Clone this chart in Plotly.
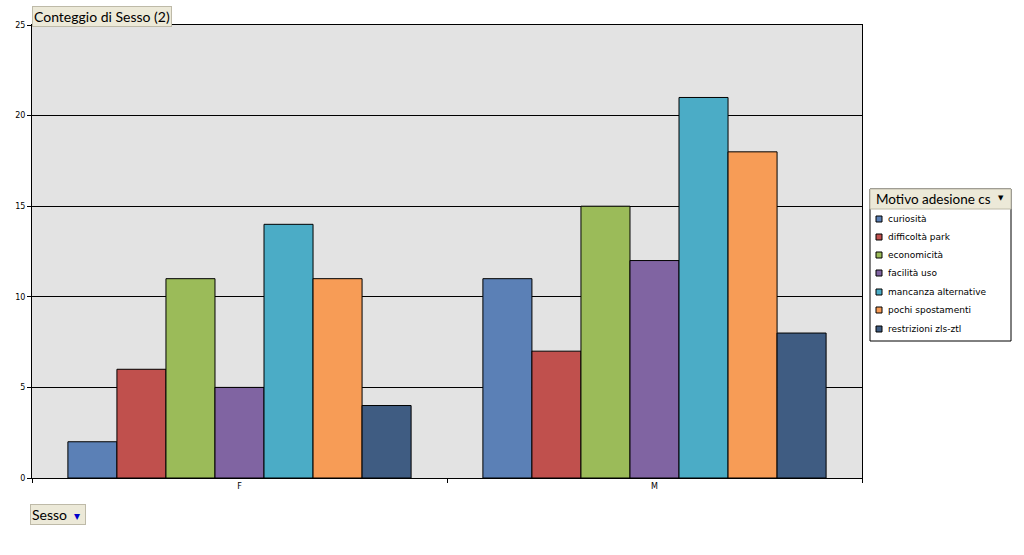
import plotly.graph_objects as go

categories = ["F", "M"]
series_names = ["curiosità", "difficoltà park", "economicità", "facilità uso",
                "mancanza alternative", "pochi spostamenti", "restrizioni zls-ztl"]
values = {
    "curiosità": [2, 11],
    "difficoltà park": [6, 7],
    "economicità": [11, 15],
    "facilità uso": [5, 12],
    "mancanza alternative": [14, 21],
    "pochi spostamenti": [11, 18],
    "restrizioni zls-ztl": [4, 8],
}
colors = ["#5B80B6", "#C0504D", "#9BBB59", "#8064A2", "#4BACC6", "#F79C56", "#3F5C82"]
y_ticks = [0, 5, 10, 15, 20, 25]

fig = go.Figure()
for name, c in zip(series_names, colors):
    fig.add_trace(go.Bar(x=categories, y=values[name], name=name, showlegend=False,
                         marker=dict(color=c, line=dict(color="black", width=1))))

L, R, T, B = 32, 162, 25, 77
W, H = 1024, 555
pw = W - L - R
ph = H - T - B

def px_x(x):
    return (x - L) / pw

def px_y(y):
    return (H - B - y) / ph

beige = "#ECE9D8"

fig.update_layout(
    width=W, height=H,
    margin=dict(l=L, r=R, t=T, b=B, autoexpand=False),
    paper_bgcolor="white",
    plot_bgcolor="#E3E3E3",
    barmode="group",
    bargap=0.173,
    bargroupgap=0,
    showlegend=False,
    font=dict(family="DejaVu Sans", size=9, color="black"),
    xaxis=dict(tickson="boundaries", ticks="outside", ticklen=4, tickcolor="black",
               showline=True, linecolor="black", linewidth=1, mirror=True,
               tickfont=dict(size=8), showgrid=False),
    yaxis=dict(range=[0, 25], tickvals=y_ticks, ticks="outside", ticklen=4,
               tickcolor="black", showline=True, linecolor="black", linewidth=1,
               mirror=True, showgrid=True, gridcolor="black", gridwidth=1,
               tickfont=dict(size=8), zeroline=False),
)

shapes = [
    dict(type="rect", xref="paper", yref="paper",
         x0=px_x(870), x1=px_x(1011), y0=px_y(341), y1=px_y(189),
         fillcolor="white", line=dict(color="black", width=1), layer="above"),
    dict(type="rect", xref="paper", yref="paper",
         x0=px_x(870), x1=px_x(1011), y0=px_y(209), y1=px_y(189),
         fillcolor=beige, line=dict(color="#BEBAA8", width=1), layer="above"),
]

annotations = [
    dict(text="Conteggio di Sesso (2)", xref="paper", yref="paper",
         x=px_x(32), y=px_y(6), xanchor="left", yanchor="top", showarrow=False,
         font=dict(family="Lato", size=14, color="black"), bgcolor=beige,
         bordercolor="#BEBAA8", borderwidth=1, borderpad=1),
    dict(text="Sesso  <span style='color:#0000CC;font-size:12px'>▾</span> ", xref="paper", yref="paper",
         x=px_x(30), y=px_y(504), xanchor="left", yanchor="top", showarrow=False,
         font=dict(family="Lato", size=14, color="black"), bgcolor=beige,
         bordercolor="#BEBAA8", borderwidth=1, borderpad=1),
    dict(text="Motivo adesione cs", xref="paper", yref="paper",
         x=px_x(874), y=px_y(199), xanchor="left", yanchor="middle", showarrow=False,
         font=dict(family="Lato", size=13.5, color="black")),
    dict(text="▼", xref="paper", yref="paper",
         x=px_x(1001), y=px_y(198), xanchor="center", yanchor="middle", showarrow=False,
         font=dict(family="DejaVu Sans", size=7, color="black")),
]

row_y = [219, 237, 255, 273, 292, 310, 329]
for name, c, ry in zip(series_names, colors, row_y):
    shapes.append(dict(type="rect", xref="paper", yref="paper",
                       x0=px_x(876), x1=px_x(882), y0=px_y(ry + 3), y1=px_y(ry - 3),
                       fillcolor=c, line=dict(color="black", width=1), layer="above"))
    annotations.append(dict(text=name, xref="paper", yref="paper",
                            x=px_x(886), y=px_y(ry), xanchor="left", yanchor="middle",
                            showarrow=False,
                            font=dict(family="DejaVu Sans", size=9, color="black")))

fig.update_layout(shapes=shapes, annotations=annotations)

fig.write_html("out.html")
